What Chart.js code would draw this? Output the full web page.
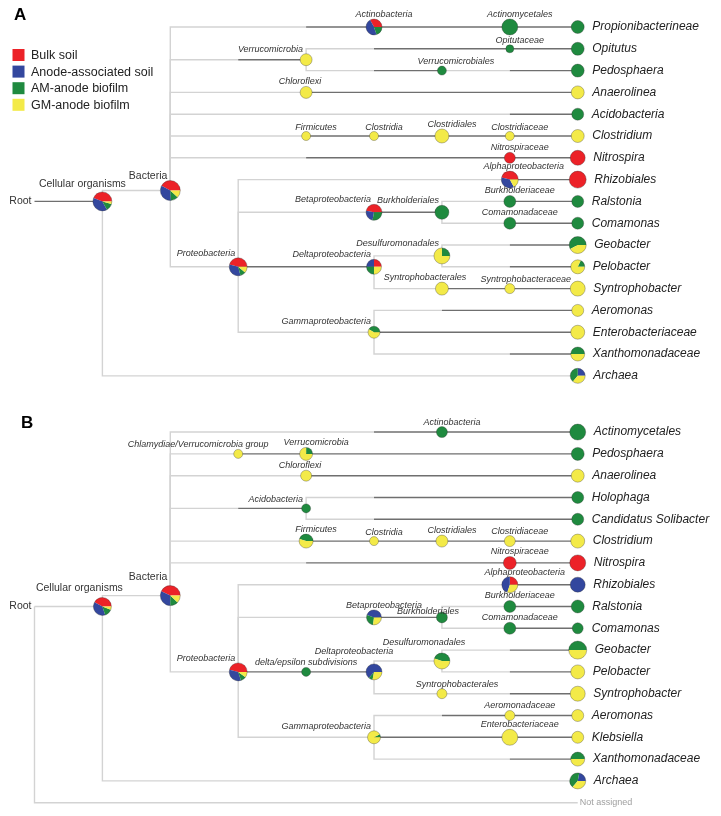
<!DOCTYPE html>
<html>
<head>
<meta charset="utf-8">
<script src="https://cdn.jsdelivr.net/npm/chart.js@4.4.1/dist/chart.umd.min.js"></script>
<style>
  html, body { margin: 0; padding: 0; background: #fff; }
  #wrap { width: 721px; height: 816px; position: relative; }
</style>
</head>
<body>
<div id="wrap"><canvas id="taxTree"></canvas></div>
<script>
/* ============================================================
   Taxonomy trees (MEGAN style) — pies show sample shares
   ============================================================ */

const sampleNames = ['Bulk soil', 'Anode-associated soil', 'AM-anode biofilm', 'GM-anode biofilm'];
const sampleColors = ['#ec2228', '#33479e', '#1f8a3f', '#f3ea48'];

// Panel A: [taxon, parent, rank column, row]
const treeA = [
  ['Root', null, 0, 8],
  ['Cellular organisms', 'Root', 1, 8],
  ['Bacteria', 'Cellular organisms', 2, 7.5],
  ['Actinobacteria', 'Bacteria', 5, 0],
  ['Actinomycetales', 'Actinobacteria', 7, 0],
  ['Propionibacterineae', 'Actinomycetales', 8, 0],
  ['Verrucomicrobia', 'Bacteria', 4, 1.5],
  ['Opitutaceae', 'Verrucomicrobia', 7, 1],
  ['Opitutus', 'Opitutaceae', 8, 1],
  ['Verrucomicrobiales', 'Verrucomicrobia', 6, 2],
  ['Pedosphaera', 'Verrucomicrobiales', 8, 2],
  ['Chloroflexi', 'Bacteria', 4, 3],
  ['Anaerolinea', 'Chloroflexi', 8, 3],
  ['Acidobacteria', 'Bacteria', 8, 4],
  ['Firmicutes', 'Bacteria', 4, 5],
  ['Clostridia', 'Firmicutes', 5, 5],
  ['Clostridiales', 'Clostridia', 6, 5],
  ['Clostridiaceae', 'Clostridiales', 7, 5],
  ['Clostridium', 'Clostridiaceae', 8, 5],
  ['Nitrospiraceae', 'Bacteria', 7, 6],
  ['Nitrospira', 'Nitrospiraceae', 8, 6],
  ['Proteobacteria', 'Bacteria', 3, 11],
  ['Alphaproteobacteria', 'Proteobacteria', 7, 7],
  ['Rhizobiales', 'Alphaproteobacteria', 8, 7],
  ['Betaproteobacteria', 'Proteobacteria', 5, 8.5],
  ['Burkholderiales', 'Betaproteobacteria', 6, 8.5],
  ['Burkholderiaceae', 'Burkholderiales', 7, 8],
  ['Ralstonia', 'Burkholderiaceae', 8, 8],
  ['Comamonadaceae', 'Burkholderiales', 7, 9],
  ['Comamonas', 'Comamonadaceae', 8, 9],
  ['Deltaproteobacteria', 'Proteobacteria', 5, 11],
  ['Desulfuromonadales', 'Deltaproteobacteria', 6, 10.5],
  ['Geobacter', 'Desulfuromonadales', 8, 10],
  ['Pelobacter', 'Desulfuromonadales', 8, 11],
  ['Syntrophobacterales', 'Deltaproteobacteria', 6, 12],
  ['Syntrophobacteraceae', 'Syntrophobacterales', 7, 12],
  ['Syntrophobacter', 'Syntrophobacteraceae', 8, 12],
  ['Gammaproteobacteria', 'Proteobacteria', 5, 14],
  ['Aeromonas', 'Gammaproteobacteria', 8, 13],
  ['Enterobacteriaceae', 'Gammaproteobacteria', 8, 14],
  ['Xanthomonadaceae', 'Gammaproteobacteria', 8, 15],
  ['Archaea', 'Cellular organisms', 8, 16],
];

// Panel A: share per sample [bulk, anode soil, AM biofilm, GM biofilm]
const sharesA = {
  'Cellular organisms': [44, 39, 12.5, 4.5],
  'Bacteria': [42, 34, 12, 12],
  'Actinobacteria': [33, 47, 20, 0],
  'Actinomycetales': [0, 0, 100, 0],
  'Propionibacterineae': [0, 0, 100, 0],
  'Verrucomicrobia': [0, 0, 0, 100],
  'Opitutaceae': [0, 0, 100, 0],
  'Opitutus': [0, 0, 100, 0],
  'Verrucomicrobiales': [0, 0, 100, 0],
  'Pedosphaera': [0, 0, 100, 0],
  'Chloroflexi': [0, 0, 0, 100],
  'Anaerolinea': [0, 0, 0, 100],
  'Acidobacteria': [0, 0, 100, 0],
  'Firmicutes': [0, 0, 0, 100],
  'Clostridia': [0, 0, 0, 100],
  'Clostridiales': [0, 0, 0, 100],
  'Clostridiaceae': [0, 0, 0, 100],
  'Clostridium': [0, 0, 0, 100],
  'Nitrospiraceae': [100, 0, 0, 0],
  'Nitrospira': [100, 0, 0, 0],
  'Proteobacteria': [46, 33, 10, 11],
  'Alphaproteobacteria': [46, 37, 0, 17],
  'Rhizobiales': [100, 0, 0, 0],
  'Betaproteobacteria': [47, 25, 28, 0],
  'Burkholderiales': [0, 0, 100, 0],
  'Burkholderiaceae': [0, 0, 100, 0],
  'Ralstonia': [0, 0, 100, 0],
  'Comamonadaceae': [0, 0, 100, 0],
  'Comamonas': [0, 0, 100, 0],
  'Deltaproteobacteria': [25, 25, 25, 25],
  'Desulfuromonadales': [0, 0, 25, 75],
  'Geobacter': [0, 0, 58, 42],
  'Pelobacter': [0, 0, 18, 82],
  'Syntrophobacterales': [0, 0, 0, 100],
  'Syntrophobacteraceae': [0, 0, 0, 100],
  'Syntrophobacter': [0, 0, 0, 100],
  'Gammaproteobacteria': [0, 0, 42, 58],
  'Aeromonas': [0, 0, 0, 100],
  'Enterobacteriaceae': [0, 0, 0, 100],
  'Xanthomonadaceae': [0, 0, 50, 50],
  'Archaea': [0, 25, 39, 36],
};

// Panel A: node size (relative abundance)
const sizeA = {
  'Cellular organisms': 9.5, 'Bacteria': 10, 'Actinobacteria': 8, 'Actinomycetales': 8,
  'Propionibacterineae': 6.5, 'Verrucomicrobia': 6, 'Opitutaceae': 4, 'Opitutus': 6.5,
  'Verrucomicrobiales': 4.5, 'Pedosphaera': 6.5, 'Chloroflexi': 6, 'Anaerolinea': 6.5,
  'Acidobacteria': 6, 'Firmicutes': 4.5, 'Clostridia': 4.5, 'Clostridiales': 7,
  'Clostridiaceae': 4.5, 'Clostridium': 6.5, 'Nitrospiraceae': 5.5, 'Nitrospira': 7.5,
  'Proteobacteria': 9, 'Alphaproteobacteria': 8.5, 'Rhizobiales': 8.5, 'Betaproteobacteria': 8,
  'Burkholderiales': 7, 'Burkholderiaceae': 6, 'Ralstonia': 6, 'Comamonadaceae': 6,
  'Comamonas': 6, 'Deltaproteobacteria': 7.5, 'Desulfuromonadales': 8, 'Geobacter': 8.5,
  'Pelobacter': 7, 'Syntrophobacterales': 6.5, 'Syntrophobacteraceae': 5, 'Syntrophobacter': 7.5,
  'Gammaproteobacteria': 6, 'Aeromonas': 6, 'Enterobacteriaceae': 7, 'Xanthomonadaceae': 7,
  'Archaea': 7.5,
};

// Panel B: [taxon, parent, rank column, row]
const treeB = [
  ['Root', null, 0, 8],
  ['Cellular organisms', 'Root', 1, 8],
  ['Bacteria', 'Cellular organisms', 2, 7.5],
  ['Actinobacteria', 'Bacteria', 6, 0],
  ['Actinomycetales', 'Actinobacteria', 8, 0],
  ['Chlamydiae/Verrucomicrobia group', 'Bacteria', 3, 1],
  ['Verrucomicrobia', 'Chlamydiae/Verrucomicrobia group', 4, 1],
  ['Pedosphaera', 'Verrucomicrobia', 8, 1],
  ['Chloroflexi', 'Bacteria', 4, 2],
  ['Anaerolinea', 'Chloroflexi', 8, 2],
  ['Acidobacteria', 'Bacteria', 4, 3.5],
  ['Holophaga', 'Acidobacteria', 8, 3],
  ['Candidatus Solibacter', 'Acidobacteria', 8, 4],
  ['Firmicutes', 'Bacteria', 4, 5],
  ['Clostridia', 'Firmicutes', 5, 5],
  ['Clostridiales', 'Clostridia', 6, 5],
  ['Clostridiaceae', 'Clostridiales', 7, 5],
  ['Clostridium', 'Clostridiaceae', 8, 5],
  ['Nitrospiraceae', 'Bacteria', 7, 6],
  ['Nitrospira', 'Nitrospiraceae', 8, 6],
  ['Proteobacteria', 'Bacteria', 3, 11],
  ['Alphaproteobacteria', 'Proteobacteria', 7, 7],
  ['Rhizobiales', 'Alphaproteobacteria', 8, 7],
  ['Betaproteobacteria', 'Proteobacteria', 5, 8.5],
  ['Burkholderiales', 'Betaproteobacteria', 6, 8.5],
  ['Burkholderiaceae', 'Burkholderiales', 7, 8],
  ['Ralstonia', 'Burkholderiaceae', 8, 8],
  ['Comamonadaceae', 'Burkholderiales', 7, 9],
  ['Comamonas', 'Comamonadaceae', 8, 9],
  ['delta/epsilon subdivisions', 'Proteobacteria', 4, 11],
  ['Deltaproteobacteria', 'delta/epsilon subdivisions', 5, 11],
  ['Desulfuromonadales', 'Deltaproteobacteria', 6, 10.5],
  ['Geobacter', 'Desulfuromonadales', 8, 10],
  ['Pelobacter', 'Desulfuromonadales', 8, 11],
  ['Syntrophobacterales', 'Deltaproteobacteria', 6, 12],
  ['Syntrophobacter', 'Syntrophobacterales', 8, 12],
  ['Gammaproteobacteria', 'Proteobacteria', 5, 14],
  ['Aeromonadaceae', 'Gammaproteobacteria', 7, 13],
  ['Aeromonas', 'Aeromonadaceae', 8, 13],
  ['Enterobacteriaceae', 'Gammaproteobacteria', 7, 14],
  ['Klebsiella', 'Enterobacteriaceae', 8, 14],
  ['Xanthomonadaceae', 'Gammaproteobacteria', 8, 15],
  ['Archaea', 'Cellular organisms', 8, 16],
  ['Not assigned', 'Root', 8, 17],
];

const sharesB = {
  'Cellular organisms': [42, 38, 14, 6],
  'Bacteria': [43, 32, 13, 12],
  'Actinobacteria': [0, 0, 100, 0],
  'Actinomycetales': [0, 0, 100, 0],
  'Chlamydiae/Verrucomicrobia group': [0, 0, 0, 100],
  'Verrucomicrobia': [0, 0, 25, 75],
  'Pedosphaera': [0, 0, 100, 0],
  'Chloroflexi': [0, 0, 0, 100],
  'Anaerolinea': [0, 0, 0, 100],
  'Acidobacteria': [0, 0, 100, 0],
  'Holophaga': [0, 0, 100, 0],
  'Candidatus Solibacter': [0, 0, 100, 0],
  'Firmicutes': [0, 0, 45, 55],
  'Clostridia': [0, 0, 0, 100],
  'Clostridiales': [0, 0, 0, 100],
  'Clostridiaceae': [0, 0, 0, 100],
  'Clostridium': [0, 0, 0, 100],
  'Nitrospiraceae': [100, 0, 0, 0],
  'Nitrospira': [100, 0, 0, 0],
  'Proteobacteria': [46, 34, 10, 10],
  'Alphaproteobacteria': [25, 45, 0, 30],
  'Rhizobiales': [0, 100, 0, 0],
  'Betaproteobacteria': [0, 45, 28, 27],
  'Burkholderiales': [0, 0, 100, 0],
  'Burkholderiaceae': [0, 0, 100, 0],
  'Ralstonia': [0, 0, 100, 0],
  'Comamonadaceae': [0, 0, 100, 0],
  'Comamonas': [0, 0, 100, 0],
  'delta/epsilon subdivisions': [0, 0, 100, 0],
  'Deltaproteobacteria': [0, 64, 8, 28],
  'Desulfuromonadales': [0, 0, 45, 55],
  'Geobacter': [0, 0, 50, 50],
  'Pelobacter': [0, 0, 0, 100],
  'Syntrophobacterales': [0, 0, 0, 100],
  'Syntrophobacter': [0, 0, 0, 100],
  'Gammaproteobacteria': [0, 0, 8, 92],
  'Aeromonadaceae': [0, 0, 0, 100],
  'Aeromonas': [0, 0, 0, 100],
  'Enterobacteriaceae': [0, 0, 0, 100],
  'Klebsiella': [0, 0, 0, 100],
  'Xanthomonadaceae': [0, 0, 50, 50],
  'Archaea': [0, 22, 42, 36],
};

const sizeB = {
  'Cellular organisms': 9, 'Bacteria': 10, 'Actinobacteria': 5.5, 'Actinomycetales': 8,
  'Chlamydiae/Verrucomicrobia group': 4.5, 'Verrucomicrobia': 6.5, 'Pedosphaera': 6.5,
  'Chloroflexi': 5.5, 'Anaerolinea': 6.5, 'Acidobacteria': 4.5, 'Holophaga': 6,
  'Candidatus Solibacter': 6, 'Firmicutes': 7, 'Clostridia': 4.5, 'Clostridiales': 6,
  'Clostridiaceae': 5.5, 'Clostridium': 7, 'Nitrospiraceae': 6.5, 'Nitrospira': 8,
  'Proteobacteria': 9, 'Alphaproteobacteria': 8, 'Rhizobiales': 7.5, 'Betaproteobacteria': 7.5,
  'Burkholderiales': 5.5, 'Burkholderiaceae': 6, 'Ralstonia': 6.5, 'Comamonadaceae': 6,
  'Comamonas': 5.5, 'delta/epsilon subdivisions': 4.5, 'Deltaproteobacteria': 8,
  'Desulfuromonadales': 8, 'Geobacter': 9, 'Pelobacter': 7, 'Syntrophobacterales': 5,
  'Syntrophobacter': 7.5, 'Gammaproteobacteria': 6.5, 'Aeromonadaceae': 5, 'Aeromonas': 6,
  'Enterobacteriaceae': 8, 'Klebsiella': 6, 'Xanthomonadaceae': 7, 'Archaea': 8,
};

/* ── Styling (not data) ───────────────────────────────────── */
const EDGE_LIGHT = '#d3d3d3';
const EDGE_DARK = '#6f6f6f';
const FONT = "'Liberation Sans', Arial, sans-serif";
const plainLabels = ['Root', 'Cellular organisms', 'Bacteria'];

// number of trailing dark segments on a branch (leaves default to 1)
const darkTailA = {
  'Cellular organisms': 1, 'Actinobacteria': 1, 'Actinomycetales': 2, 'Verrucomicrobia': 1,
  'Opitutaceae': 2, 'Verrucomicrobiales': 1, 'Anaerolinea': 4, 'Clostridia': 1,
  'Clostridiales': 1, 'Clostridiaceae': 1, 'Nitrospiraceae': 3, 'Burkholderiales': 1,
  'Deltaproteobacteria': 2, 'Syntrophobacteraceae': 1, 'Aeromonas': 2,
  'Enterobacteriaceae': 3, 'Archaea': 0,
};
const darkTailB = {
  'Actinobacteria': 1, 'Actinomycetales': 2, 'Verrucomicrobia': 1, 'Pedosphaera': 4,
  'Anaerolinea': 4, 'Acidobacteria': 1, 'Holophaga': 3, 'Candidatus Solibacter': 3,
  'Clostridia': 1, 'Clostridiales': 1, 'Clostridiaceae': 1, 'Nitrospiraceae': 3,
  'Burkholderiales': 1, 'delta/epsilon subdivisions': 1, 'Deltaproteobacteria': 1,
  'Aeromonadaceae': 1, 'Enterobacteriaceae': 2, 'Archaea': 0, 'Not assigned': 0,
};

// label placement: names drawn to the left of the node, centre offsets, extra lift
const leftLabelsA = ['Bacteria', 'Proteobacteria', 'Verrucomicrobia', 'Betaproteobacteria',
  'Burkholderiales', 'Deltaproteobacteria', 'Desulfuromonadales', 'Gammaproteobacteria'];
const labelDxA = { 'Cellular organisms': -20, 'Chloroflexi': -6, 'Verrucomicrobiales': 14,
  'Alphaproteobacteria': 14, 'Syntrophobacterales': -17, 'Syntrophobacteraceae': 16 };
const labelLiftA = { 'Cellular organisms': 3 };

const leftLabelsB = ['Bacteria', 'Proteobacteria', 'Acidobacteria', 'Gammaproteobacteria'];
const labelDxB = { 'Cellular organisms': -23, 'Chloroflexi': -6,
  'Chlamydiae/Verrucomicrobia group': -40, 'Burkholderiales': -14, 'Deltaproteobacteria': -20,
  'Desulfuromonadales': -18, 'Syntrophobacterales': 15, 'delta/epsilon subdivisions': 0,
  'Alphaproteobacteria': 15 };
const labelLiftB = { 'Cellular organisms': 4.5, 'Bacteria': 3.5, 'Burkholderiales': -4.5,
  'Deltaproteobacteria': 7.5, 'Desulfuromonadales': 5.5 };

const panels = [
  { letter: 'A', tree: treeA, shares: sharesA, size: sizeA, darkTail: darkTailA, rowOffset: 0,
    left: leftLabelsA, dx: labelDxA, lift: labelLiftA, letterPos: [14, 15] },
  { letter: 'B', tree: treeB, shares: sharesB, size: sizeB, darkTail: darkTailB, rowOffset: 18.58,
    left: leftLabelsB, dx: labelDxB, lift: labelLiftB, letterPos: [21, 423] },
];

/* ── Build datasets from the trees ────────────────────────── */
const datasets = [];

panels.forEach((panel) => {
  const nodes = {};
  panel.tree.forEach(([name, parent, col, row]) => {
    nodes[name] = { name, parent, col, row: row + panel.rowOffset, kids: 0 };
  });
  panel.tree.forEach(([, parent]) => { if (parent) nodes[parent].kids++; });

  panel.tree.forEach(([name, parent]) => {
    if (!parent) return;
    const p = nodes[parent];
    const c = nodes[name];
    const path = [{ x: p.col, y: p.row }, { x: p.col, y: c.row }];
    for (let k = p.col + 1; k <= c.col; k++) path.push({ x: k, y: c.row });
    const leaf = c.kids === 0;
    let tail = name in panel.darkTail ? panel.darkTail[name] : (leaf ? 1 : 0);
    tail = Math.min(tail, path.length - 2);
    const split = path.length - 1 - tail;
    datasets.push({
      data: path.slice(0, split + 1),
      showLine: true, borderColor: EDGE_LIGHT, borderWidth: 1.4,
      pointRadius: 0, order: 3,
    });
    if (tail > 0) {
      datasets.push({
        data: path.slice(split),
        showLine: true, borderColor: EDGE_DARK, borderWidth: 1.4,
        pointRadius: 0, order: 2,
      });
    }
  });

  const nodeData = panel.tree.map(([name]) => {
    const n = nodes[name];
    return {
      x: n.col, y: n.row, name,
      r: panel.size[name] || 0,
      shares: panel.shares[name] || null,
      leaf: n.kids === 0,
    };
  });
  datasets.push({
    data: nodeData,
    isNodeLayer: true,
    panel,
    pointRadius: nodeData.map(d => d.r),
    pointBackgroundColor: 'rgba(0,0,0,0)',
    pointBorderWidth: 0,
    order: 1,
  });
});

/* ── Pie + label plugin ───────────────────────────────────── */
function drawPie(ctx, x, y, r, shares) {
  const total = shares.reduce((a, b) => a + b, 0);
  let start = 0;
  shares.forEach((v, i) => {
    if (v <= 0) return;
    const sweep = v / total * Math.PI * 2;
    ctx.beginPath();
    ctx.moveTo(x, y);
    // counter-clockwise from 3 o'clock
    ctx.arc(x, y, r, -start, -(start + sweep), true);
    ctx.closePath();
    ctx.fillStyle = sampleColors[i];
    ctx.fill();
    start += sweep;
  });
  ctx.beginPath();
  ctx.arc(x, y, r, 0, Math.PI * 2);
  ctx.strokeStyle = 'rgba(40,40,40,0.45)';
  ctx.lineWidth = 0.7;
  ctx.stroke();
}

const treeDecor = {
  id: 'treeDecor',
  afterDatasetsDraw(chart) {
    const ctx = chart.ctx;
    chart.data.datasets.forEach((ds, di) => {
      if (!ds.isNodeLayer) return;
      const meta = chart.getDatasetMeta(di);
      const panel = ds.panel;
      meta.data.forEach((pt, i) => {
        const d = ds.data[i];
        if (d.shares && d.r > 0) drawPie(ctx, pt.x, pt.y, d.r, d.shares);
      });
      ctx.save();
      ctx.textBaseline = 'middle';
      meta.data.forEach((pt, i) => {
        const d = ds.data[i];
        const plain = plainLabels.includes(d.name);
        if (d.name === 'Root') {
          ctx.font = `10.5px ${FONT}`;
          ctx.fillStyle = '#333';
          ctx.textAlign = 'right';
          ctx.fillText(d.name, pt.x - 3, pt.y);
        } else if (d.name === 'Not assigned') {
          ctx.font = `9px ${FONT}`;
          ctx.fillStyle = '#a0a0a0';
          ctx.textAlign = 'left';
          ctx.fillText(d.name, pt.x + 2, pt.y);
        } else if (d.leaf) {
          ctx.font = `italic 12px ${FONT}`;
          ctx.fillStyle = '#222';
          ctx.textAlign = 'left';
          ctx.fillText(d.name, pt.x + Math.max(14, d.r + 8), pt.y);
        } else {
          ctx.font = plain ? `10.5px ${FONT}` : `italic 9px ${FONT}`;
          ctx.fillStyle = '#333';
          const ly = pt.y - d.r - 4.5 - (panel.lift[d.name] || 0);
          if (panel.left.includes(d.name)) {
            ctx.textAlign = 'right';
            ctx.fillText(d.name, pt.x - 3, ly);
          } else {
            ctx.textAlign = 'center';
            const dx = d.name in panel.dx ? panel.dx[d.name] : 10;
            ctx.fillText(d.name, pt.x + dx, ly);
          }
        }
      });
      ctx.restore();
    });
  },
  afterDraw(chart) {
    const ctx = chart.ctx;
    ctx.save();
    // panel letters
    ctx.font = `bold 17px ${FONT}`;
    ctx.fillStyle = '#000';
    ctx.textBaseline = 'middle';
    ctx.textAlign = 'left';
    panels.forEach((p) => ctx.fillText(p.letter, p.letterPos[0], p.letterPos[1]));
    // legend
    ctx.font = `12.5px ${FONT}`;
    sampleNames.forEach((name, i) => {
      const cy = 55 + i * 16.6;
      ctx.fillStyle = sampleColors[i];
      ctx.fillRect(12.5, cy - 6, 12, 12);
      ctx.fillStyle = '#222';
      ctx.fillText(name, 31, cy + 0.5);
    });
    ctx.restore();
  },
};

new Chart(document.getElementById('taxTree'), {
  type: 'scatter',
  data: { datasets },
  plugins: [treeDecor],
  options: {
    responsive: true,
    maintainAspectRatio: false,
    animation: false,
    events: [],
    layout: { padding: 0, autoPadding: false },
    plugins: { legend: { display: false }, tooltip: { enabled: false } },
    scales: {
      x: { type: 'linear', display: false, min: -0.508, max: 10.11 },
      y: { type: 'linear', display: false, reverse: true, min: -1.2385, max: 36.19 },
    },
  },
});
</script>
</body>
</html>
